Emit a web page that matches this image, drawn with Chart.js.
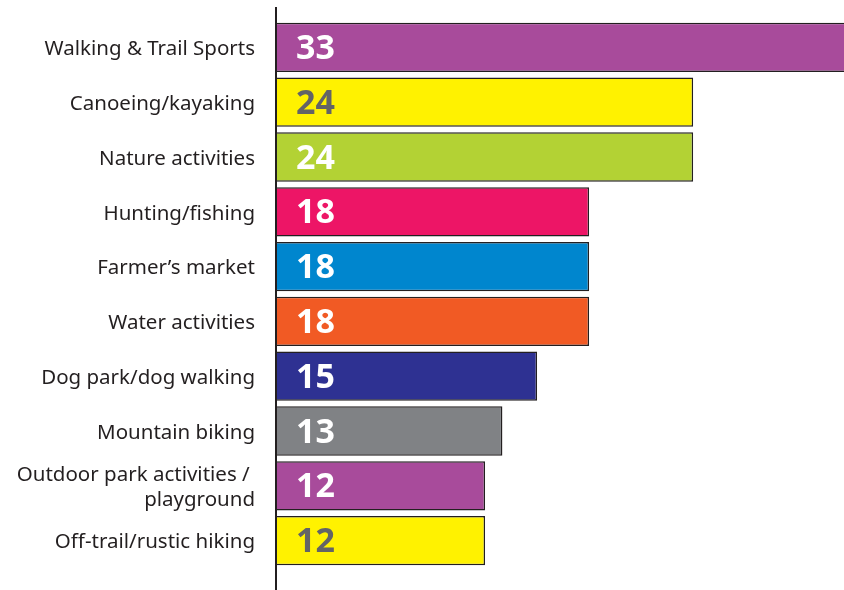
<!DOCTYPE html>
<html>
<head>
<meta charset="utf-8">
<script src="https://cdn.jsdelivr.net/npm/chart.js@4"></script>
<style>
  html, body { margin: 0; padding: 0; background: #fff; }
  #wrap { width: 844px; height: 590px; position: relative; }
</style>
</head>
<body>
<div id="wrap"><canvas id="chart"></canvas></div>
<script>
const categories = [
  'Walking & Trail Sports',
  'Canoeing/kayaking',
  'Nature activities',
  'Hunting/fishing',
  'Farmer\u2019s market',
  'Water activities',
  'Dog park/dog walking',
  'Mountain biking',
  ['Outdoor park activities / ', 'playground'],
  'Off-trail/rustic hiking'
];
const values = [33, 24, 24, 18, 18, 18, 15, 13, 12, 12];
const barColors = ['#A84B9B', '#FFF200', '#B3D234', '#ED1566', '#0086CE', '#F15A24', '#2E3192', '#808285', '#A84B9B', '#FFF200'];
const valueColors = ['#fff', '#636466', '#fff', '#fff', '#fff', '#fff', '#fff', '#fff', '#fff', '#636466'];

// vertical axis line at zero, running past the bars
const axisLine = {
  id: 'axisLine',
  afterDatasetsDraw(chart) {
    const { ctx, scales: { x } } = chart;
    const px = x.getPixelForValue(0) - 1;
    ctx.save();
    ctx.strokeStyle = '#231F20';
    ctx.lineWidth = 2;
    ctx.beginPath();
    ctx.moveTo(px, 7);
    ctx.lineTo(px, chart.height);
    ctx.stroke();
    ctx.restore();
  }
};

// bold value inside each bar, near its base
const valueLabels = {
  id: 'valueLabels',
  afterDatasetsDraw(chart) {
    const { ctx } = chart;
    const meta = chart.getDatasetMeta(0);
    ctx.save();
    ctx.font = 'bold 34px "Open Sans"';
    ctx.textAlign = 'left';
    ctx.textBaseline = 'middle';
    meta.data.forEach((bar, i) => {
      ctx.fillStyle = valueColors[i];
      ctx.fillText(String(values[i]), bar.base + 19, bar.y + 2);
    });
    ctx.restore();
  }
};

new Chart(document.getElementById('chart'), {
  type: 'bar',
  data: {
    labels: categories,
    datasets: [{
      data: values,
      backgroundColor: barColors,
      borderColor: '#231F20',
      borderWidth: 1.5,
      categoryPercentage: 1,
      barPercentage: 0.9
    }]
  },
  options: {
    indexAxis: 'y',
    responsive: true,
    maintainAspectRatio: false,
    animation: false,
    layout: { padding: { top: 20, bottom: 22, left: 0, right: 0 } },
    plugins: { legend: { display: false }, tooltip: { enabled: false } },
    scales: {
      x: { display: false, min: 0, max: 32.7 },
      y: {
        grid: { display: false, drawTicks: false },
        border: { display: false },
        afterFit(scale) {
          scale.width = 277;
          scale.paddingTop = 0;
          scale.paddingBottom = 0;
        },
        ticks: {
          color: '#231F20',
          padding: 22,
          labelOffset: 2,
          font: { family: '"Noto Sans"', size: 20.5, lineHeight: 1.2 }
        }
      }
    }
  },
  plugins: [axisLine, valueLabels]
});
</script>
</body>
</html>
